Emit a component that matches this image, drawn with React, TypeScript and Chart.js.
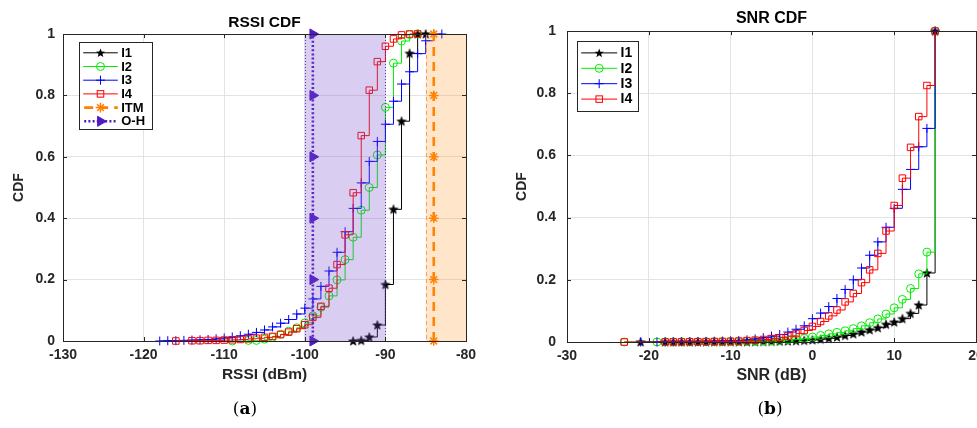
import React, { useEffect, useRef } from 'react';
import { Chart, registerables } from 'chart.js';

Chart.register(...registerables);

type Pt = [number, number];

// ---- axis ticks ----
const rssiTicks = [-130, -120, -110, -100, -90, -80];
const snrTicks = [-30, -20, -10, 0, 10, 20];
const cdfTicks = [0, 0.2, 0.4, 0.6, 0.8, 1];

// ---- RSSI CDF (dBm, cumulative probability) ----
const rssiI1: Pt[] = [
  [-94, 0], [-93, 0.002], [-92, 0.013], [-91, 0.052], [-90, 0.184], [-89, 0.429],
  [-88, 0.716], [-87, 0.937], [-86, 1], [-85, 1],
];
const rssiI2: Pt[] = [
  [-109, 0], [-107, 0.002], [-106, 0.002], [-105, 0.006], [-104, 0.012], [-103, 0.022],
  [-102, 0.032], [-101, 0.043], [-100, 0.059], [-99, 0.082], [-98, 0.11], [-97, 0.147],
  [-96, 0.199], [-95, 0.265], [-94, 0.338], [-93, 0.426], [-92, 0.5], [-91, 0.606],
  [-90, 0.761], [-89, 0.905], [-88, 0.977], [-87, 0.998], [-86, 1],
];
const rssiI3: Pt[] = [
  [-118, 0], [-117, 0.001], [-116, 0.001], [-115, 0.002], [-114, 0.003], [-113, 0.004],
  [-112, 0.005], [-111, 0.007], [-110, 0.01], [-109, 0.013], [-108, 0.017], [-107, 0.022],
  [-106, 0.028], [-105, 0.036], [-104, 0.046], [-103, 0.058], [-102, 0.07], [-101, 0.088],
  [-100, 0.107], [-99, 0.137], [-98, 0.178], [-97, 0.228], [-96, 0.289], [-95, 0.356],
  [-94, 0.432], [-93, 0.515], [-92, 0.585], [-91, 0.65], [-90, 0.706], [-89, 0.781],
  [-88, 0.837], [-87, 0.877], [-86, 0.936], [-85, 0.978], [-84, 1], [-83, 1],
];
const rssiI4: Pt[] = [
  [-116, 0], [-114, 0.001], [-113, 0.001], [-112, 0.002], [-111, 0.002], [-110, 0.003],
  [-109, 0.004], [-108, 0.005], [-107, 0.007], [-106, 0.009], [-105, 0.012], [-104, 0.015],
  [-103, 0.021], [-102, 0.029], [-101, 0.04], [-100, 0.053], [-99, 0.077], [-98, 0.113],
  [-97, 0.172], [-96, 0.249], [-95, 0.346], [-94, 0.483], [-93, 0.669], [-92, 0.817],
  [-91, 0.91], [-90, 0.96], [-89, 0.984], [-88, 0.997], [-87, 1], [-86, 1],
];

// propagation-model predictions (dBm) and the spread around them
const itmRssi = -84;
const ohRssi = -99;
const modelLevels = [0, 0.2, 0.4, 0.6, 0.8, 1];
const ohBand: Pt = [-100, -90];
const itmBand: Pt = [-85, -80];

// ---- SNR CDF (dB, cumulative probability) ----
const snrI1: Pt[] = [
  [-21, 0], [-18, 0.0001], [-17, 0.0001], [-16, 0.0002], [-15, 0.0002], [-14, 0.0003],
  [-13, 0.0003], [-12, 0.0004], [-11, 0.0005], [-10, 0.0006], [-9, 0.0008], [-8, 0.001],
  [-7, 0.0012], [-6, 0.0015], [-5, 0.002], [-4, 0.0025], [-3, 0.003], [-2, 0.004],
  [-1, 0.005], [0, 0.0065], [1, 0.009], [2, 0.012], [3, 0.016], [4, 0.021], [5, 0.026],
  [6, 0.032], [7, 0.039], [8, 0.046], [9, 0.057], [10, 0.064], [11, 0.075], [12, 0.092],
  [13, 0.119], [14, 0.222], [15, 1],
];
const snrI2: Pt[] = [
  [-23, 0], [-19, 0.0001], [-18, 0.0002], [-17, 0.0002], [-16, 0.0003], [-15, 0.0004],
  [-14, 0.0005], [-13, 0.0006], [-12, 0.0007], [-11, 0.0008], [-10, 0.001], [-9, 0.0015],
  [-8, 0.002], [-7, 0.0025], [-6, 0.003], [-5, 0.004], [-4, 0.005], [-3, 0.007],
  [-2, 0.009], [-1, 0.012], [0, 0.016], [1, 0.021], [2, 0.026], [3, 0.031], [4, 0.036],
  [5, 0.043], [6, 0.052], [7, 0.062], [8, 0.074], [9, 0.09], [10, 0.11], [11, 0.137],
  [12, 0.172], [13, 0.219], [14, 0.289], [15, 1],
];
const snrI3: Pt[] = [
  [-21, 0], [-19, 0.0003], [-18, 0.0005], [-17, 0.0007], [-16, 0.001], [-15, 0.0013],
  [-14, 0.0016], [-13, 0.002], [-12, 0.0025], [-11, 0.003], [-10, 0.004], [-9, 0.005],
  [-8, 0.007], [-7, 0.01], [-6, 0.014], [-5, 0.019], [-4, 0.024], [-3, 0.032],
  [-2, 0.041], [-1, 0.052], [0, 0.075], [1, 0.093], [2, 0.114], [3, 0.14], [4, 0.169],
  [5, 0.2], [6, 0.238], [7, 0.279], [8, 0.322], [9, 0.369], [10, 0.43], [11, 0.491],
  [12, 0.555], [13, 0.628], [14, 0.687], [15, 1],
];
const snrI4: Pt[] = [
  [-23, 0], [-18, 0.0003], [-17, 0.0004], [-16, 0.0005], [-15, 0.0007], [-14, 0.0009],
  [-13, 0.0012], [-12, 0.0015], [-11, 0.002], [-10, 0.0025], [-9, 0.003], [-8, 0.0045],
  [-7, 0.006], [-6, 0.008], [-5, 0.011], [-4, 0.014], [-3, 0.019], [-2, 0.027],
  [-1, 0.037], [0, 0.05], [1, 0.066], [2, 0.084], [3, 0.103], [4, 0.129], [5, 0.156],
  [6, 0.191], [7, 0.232], [8, 0.285], [9, 0.357], [10, 0.439], [11, 0.527], [12, 0.626],
  [13, 0.725], [14, 0.825], [15, 1],
];

// ---- styling ----
const FONT = "'Liberation Sans', Arial, Helvetica, sans-serif";
const INK = '#262626';
const GRID = '#e3e3e3';
const GREEN = '#00ee00';
const ORANGE = '#ff8000';
const PURPLE = 'rgb(78,26,196)';
const TICK_LEN = 4;

type MarkerKind = 'pentagram' | 'circle' | 'cross' | 'rect' | 'star' | 'triangleR';

interface SeriesStyle {
  label: string;
  color: string;
  marker: MarkerKind;
  r: number;
  filled: boolean;
  width: number;
  dash: number[];
  markerWidth: number;
}

function pentagramPath(ctx: CanvasRenderingContext2D, cx: number, cy: number, outer: number) {
  const inner = outer * 0.42;
  ctx.beginPath();
  for (let i = 0; i < 10; i++) {
    const rr = i % 2 === 0 ? outer : inner;
    const ang = -Math.PI / 2 + (i * Math.PI) / 5;
    const px = cx + rr * Math.cos(ang);
    const py = cy + rr * Math.sin(ang);
    if (i === 0) ctx.moveTo(px, py);
    else ctx.lineTo(px, py);
  }
  ctx.closePath();
}

function pentagramImage(outer: number, color: string): HTMLCanvasElement {
  const size = Math.ceil(outer * 2) + 2;
  const c = document.createElement('canvas');
  c.width = size;
  c.height = size;
  const g = c.getContext('2d')!;
  pentagramPath(g, size / 2, size / 2 + 0.4, outer);
  g.fillStyle = color;
  g.fill();
  g.strokeStyle = color;
  g.lineWidth = 0.6;
  g.stroke();
  return c;
}

function drawMarker(ctx: CanvasRenderingContext2D, s: SeriesStyle, x: number, y: number) {
  const r = s.r;
  ctx.save();
  ctx.setLineDash([]);
  ctx.strokeStyle = s.color;
  ctx.fillStyle = s.color;
  ctx.lineWidth = s.markerWidth;
  switch (s.marker) {
    case 'pentagram':
      pentagramPath(ctx, x, y + 0.4, r);
      ctx.fill();
      break;
    case 'circle':
      ctx.beginPath();
      ctx.arc(x, y, r, 0, Math.PI * 2);
      ctx.stroke();
      break;
    case 'cross':
      ctx.beginPath();
      ctx.moveTo(x - r, y);
      ctx.lineTo(x + r, y);
      ctx.moveTo(x, y - r);
      ctx.lineTo(x, y + r);
      ctx.stroke();
      break;
    case 'rect': {
      const h = r * Math.SQRT1_2;
      ctx.strokeRect(x - h, y - h, 2 * h, 2 * h);
      break;
    }
    case 'star': {
      const d = r * Math.SQRT1_2;
      ctx.beginPath();
      ctx.moveTo(x - r, y);
      ctx.lineTo(x + r, y);
      ctx.moveTo(x, y - r);
      ctx.lineTo(x, y + r);
      ctx.moveTo(x - d, y - d);
      ctx.lineTo(x + d, y + d);
      ctx.moveTo(x - d, y + d);
      ctx.lineTo(x + d, y - d);
      ctx.stroke();
      break;
    }
    case 'triangleR':
      ctx.beginPath();
      ctx.moveTo(x + r, y);
      ctx.lineTo(x - r / 2, y - r * 0.866);
      ctx.lineTo(x - r / 2, y + r * 0.866);
      ctx.closePath();
      ctx.fill();
      ctx.stroke();
      break;
  }
  ctx.restore();
}

function chartPointStyle(s: SeriesStyle): any {
  switch (s.marker) {
    case 'pentagram':
      return pentagramImage(s.r, s.color);
    case 'triangleR':
      return 'triangle';
    default:
      return s.marker;
  }
}

function measuredSeries(s: SeriesStyle, pts: Pt[], order: number) {
  return {
    label: s.label,
    data: pts.map(([x, y]) => ({ x, y })),
    borderColor: s.color,
    backgroundColor: s.color,
    borderWidth: s.width,
    stepped: 'before' as const,
    pointStyle: chartPointStyle(s),
    pointRadius: s.r,
    pointBorderColor: s.color,
    pointBackgroundColor: s.filled ? s.color : 'rgba(0,0,0,0)',
    pointBorderWidth: s.markerWidth,
    clip: false as const,
    order,
  };
}

function modelSeries(s: SeriesStyle, value: number, order: number) {
  return {
    label: s.label,
    data: modelLevels.map((y) => ({ x: value, y })),
    borderColor: s.color,
    backgroundColor: s.color,
    borderWidth: s.width,
    borderDash: s.dash,
    borderCapStyle: 'butt' as const,
    pointStyle: chartPointStyle(s),
    pointRotation: s.marker === 'triangleR' ? 90 : 0,
    pointRadius: s.r,
    pointBorderColor: s.color,
    pointBackgroundColor: s.filled ? s.color : 'rgba(0,0,0,0)',
    pointBorderWidth: s.markerWidth,
    clip: false as const,
    order,
  };
}

const styleI1: SeriesStyle = { label: 'I1', color: '#000000', marker: 'pentagram', r: 4.8, filled: true, width: 1, dash: [], markerWidth: 1 };
const styleI2: SeriesStyle = { label: 'I2', color: GREEN, marker: 'circle', r: 4, filled: false, width: 1, dash: [], markerWidth: 1 };
const styleI3: SeriesStyle = { label: 'I3', color: '#0000ff', marker: 'cross', r: 4.5, filled: false, width: 1, dash: [], markerWidth: 1 };
const styleI4: SeriesStyle = { label: 'I4', color: '#ff0000', marker: 'rect', r: 4.6, filled: false, width: 1, dash: [], markerWidth: 1 };
const styleITM: SeriesStyle = { label: 'ITM', color: ORANGE, marker: 'star', r: 4.8, filled: false, width: 2.6, dash: [9, 6], markerWidth: 1.5 };
const styleOH: SeriesStyle = { label: 'O-H', color: PURPLE, marker: 'triangleR', r: 5.8, filled: true, width: 2.6, dash: [2, 2.2], markerWidth: 1 };

interface Band {
  range: Pt;
  fill: string;
  edge: string;
  edgeDash: number[];
}

interface LegendLayout {
  dx: number;
  dy: number;
  w: number;
  h: number;
  row0: number;
  rowGap: number;
  line0: number;
  line1: number;
  textX: number;
  font: string;
  rows: SeriesStyle[];
}

const framePlugin = {
  id: 'cdfFrame',
  afterDatasetsDraw(chart: any, _args: any, o: any) {
    const { ctx, chartArea: a } = chart;
    const xs = chart.scales.x;
    const ys = chart.scales.y;
    ctx.save();
    // shaded prediction ranges sit over the curves, as a translucent patch
    (o.bands as Band[]).forEach((b) => {
      const x0 = xs.getPixelForValue(b.range[0]);
      const x1 = xs.getPixelForValue(b.range[1]);
      ctx.fillStyle = b.fill;
      ctx.fillRect(x0, a.top, x1 - x0, a.bottom - a.top);
      ctx.strokeStyle = b.edge;
      ctx.lineWidth = 1;
      ctx.setLineDash(b.edgeDash);
      ctx.beginPath();
      [x0, x1].forEach((x) => {
        const px = Math.round(x) + 0.5;
        ctx.moveTo(px, a.top);
        ctx.lineTo(px, a.bottom);
      });
      ctx.stroke();
    });
    // axes box with inward tick marks on all four sides
    ctx.setLineDash([]);
    ctx.strokeStyle = INK;
    ctx.lineWidth = 1;
    ctx.beginPath();
    xs.ticks.forEach((t: any) => {
      const px = Math.round(xs.getPixelForValue(t.value)) + 0.5;
      ctx.moveTo(px, a.bottom);
      ctx.lineTo(px, a.bottom - TICK_LEN);
      ctx.moveTo(px, a.top);
      ctx.lineTo(px, a.top + TICK_LEN);
    });
    ys.ticks.forEach((t: any) => {
      const py = Math.round(ys.getPixelForValue(t.value)) + 0.5;
      ctx.moveTo(a.left, py);
      ctx.lineTo(a.left + TICK_LEN, py);
      ctx.moveTo(a.right, py);
      ctx.lineTo(a.right - TICK_LEN, py);
    });
    ctx.stroke();
    ctx.strokeRect(
      Math.round(a.left) + 0.5,
      Math.round(a.top) + 0.5,
      Math.round(a.right - a.left),
      Math.round(a.bottom - a.top)
    );
    ctx.restore();
  },
  afterDraw(chart: any, _args: any, o: any) {
    const L = o.legend as LegendLayout;
    const { ctx, chartArea: a } = chart;
    const bx = Math.round(a.left + L.dx) + 0.5;
    const by = Math.round(a.top + L.dy) + 0.5;
    ctx.save();
    ctx.fillStyle = '#ffffff';
    ctx.fillRect(bx, by, L.w, L.h);
    ctx.strokeStyle = INK;
    ctx.lineWidth = 1;
    ctx.strokeRect(bx, by, L.w, L.h);
    L.rows.forEach((s, i) => {
      const y = by + L.row0 + i * L.rowGap;
      ctx.strokeStyle = s.color;
      ctx.lineWidth = s.width;
      ctx.setLineDash(s.dash);
      ctx.lineDashOffset = s.dash.length ? -1 : 0;
      ctx.beginPath();
      ctx.moveTo(bx + L.line0, y);
      ctx.lineTo(bx + L.line1, y);
      ctx.stroke();
      ctx.setLineDash([]);
      drawMarker(ctx, s, bx + (L.line0 + L.line1) / 2, y);
      ctx.fillStyle = '#000000';
      ctx.font = L.font;
      ctx.textAlign = 'left';
      ctx.textBaseline = 'middle';
      ctx.fillText(s.label, bx + L.textX, y + 0.5);
    });
    ctx.restore();
  },
};

interface PanelSpec {
  title: string;
  titleSize: number;
  titlePad: Pt;
  xTitle: string;
  xTitleSize: number;
  xTitlePadBottom: number;
  yTitleSize: number;
  yTitlePadTop: number;
  xMin: number;
  xMax: number;
  xTicks: number[];
  yAxisWidth: number;
  xAxisHeight: number;
  yTickPad: number;
  xTickPad: number;
  padRight: number;
  datasets: any[];
  bands: Band[];
  legend: LegendLayout;
}

function panelConfig(p: PanelSpec): any {
  const tickFont = { family: FONT, size: 14, weight: 'bold' as const };
  return {
    type: 'line',
    data: { datasets: p.datasets },
    plugins: [framePlugin],
    options: {
      responsive: false,
      animation: false,
      events: [],
      layout: { padding: { left: 0, right: p.padRight, top: 0, bottom: 0 } },
      scales: {
        x: {
          type: 'linear',
          min: p.xMin,
          max: p.xMax,
          afterBuildTicks: (s: any) => {
            s.ticks = p.xTicks.map((v) => ({ value: v }));
          },
          afterFit: (s: any) => {
            s.height = p.xAxisHeight;
          },
          grid: { color: GRID, lineWidth: 1, drawTicks: false },
          border: { display: false },
          ticks: {
            font: tickFont,
            color: INK,
            padding: p.xTickPad,
            maxRotation: 0,
            autoSkip: false,
            callback: (v: number) => String(v),
          },
          title: {
            display: true,
            text: p.xTitle,
            color: INK,
            font: { family: FONT, size: p.xTitleSize, weight: 'bold' },
            padding: { top: 0, bottom: p.xTitlePadBottom },
          },
        },
        y: {
          type: 'linear',
          min: 0,
          max: 1,
          afterBuildTicks: (s: any) => {
            s.ticks = cdfTicks.map((v) => ({ value: v }));
          },
          afterFit: (s: any) => {
            s.width = p.yAxisWidth;
          },
          grid: { color: GRID, lineWidth: 1, drawTicks: false },
          border: { display: false },
          ticks: {
            font: tickFont,
            color: INK,
            padding: p.yTickPad,
            autoSkip: false,
            callback: (v: number) => String(v),
          },
          title: {
            display: true,
            text: 'CDF',
            color: INK,
            font: { family: FONT, size: p.yTitleSize, weight: 'bold' },
            padding: { top: p.yTitlePadTop, bottom: 0 },
          },
        },
      },
      plugins: {
        legend: { display: false },
        tooltip: { enabled: false },
        title: {
          display: true,
          text: p.title,
          color: '#000000',
          fullSize: false,
          font: { family: FONT, size: p.titleSize, weight: 'bold' },
          padding: { top: p.titlePad[0], bottom: p.titlePad[1] },
        },
        cdfFrame: { bands: p.bands, legend: p.legend },
      },
    },
  };
}

const rssiPanel: PanelSpec = {
  title: 'RSSI CDF',
  titleSize: 15.5,
  titlePad: [13.2, 2.2],
  xTitle: 'RSSI (dBm)',
  xTitleSize: 15.5,
  xTitlePadBottom: 16,
  yTitleSize: 14,
  yTitlePadTop: 10.6,
  xMin: -130,
  xMax: -80,
  xTicks: rssiTicks,
  yAxisWidth: 63,
  xAxisHeight: 59,
  yTickPad: 8,
  xTickPad: 5.6,
  padRight: 22,
  datasets: [
    modelSeries(styleOH, ohRssi, 1),
    modelSeries(styleITM, itmRssi, 2),
    measuredSeries(styleI4, rssiI4, 3),
    measuredSeries(styleI3, rssiI3, 4),
    measuredSeries(styleI2, rssiI2, 5),
    measuredSeries(styleI1, rssiI1, 6),
  ],
  bands: [
    { range: ohBand, fill: 'rgba(118,80,206,0.28)', edge: 'rgba(70,30,170,0.85)', edgeDash: [1, 2] },
    { range: itmBand, fill: 'rgba(255,140,20,0.22)', edge: 'rgba(245,150,70,0.85)', edgeDash: [4, 3] },
  ],
  legend: {
    dx: 16,
    dy: 8,
    w: 73,
    h: 87,
    row0: 10.3,
    rowGap: 13.7,
    line0: 3.7,
    line1: 38.3,
    textX: 41.7,
    font: `bold 13px ${FONT}`,
    rows: [styleI1, styleI2, styleI3, styleI4, styleITM, styleOH],
  },
};

const snrPanel: PanelSpec = {
  title: 'SNR CDF',
  titleSize: 16,
  titlePad: [9.2, 2.7],
  xTitle: 'SNR (dB)',
  xTitleSize: 16,
  xTitlePadBottom: 14.7,
  yTitleSize: 14,
  yTitlePadTop: 25.6,
  xMin: -30,
  xMax: 20,
  xTicks: snrTicks,
  yAxisWidth: 79,
  xAxisHeight: 58,
  yTickPad: 11,
  xTickPad: 5.6,
  padRight: 42,
  datasets: [
    measuredSeries(styleI4, snrI4, 1),
    measuredSeries(styleI3, snrI3, 2),
    measuredSeries(styleI2, snrI2, 3),
    measuredSeries(styleI1, snrI1, 4),
  ],
  bands: [],
  legend: {
    dx: 10,
    dy: 10,
    w: 61,
    h: 70,
    row0: 11.4,
    rowGap: 15.4,
    line0: 3.7,
    line1: 39.7,
    textX: 43,
    font: `bold 14px ${FONT}`,
    rows: [styleI1, styleI2, styleI3, styleI4],
  },
};

function CdfCanvas({ spec, left, width }: { spec: PanelSpec; left: number; width: number }) {
  const ref = useRef<HTMLCanvasElement>(null);
  useEffect(() => {
    if (!ref.current) return;
    const chart = new Chart(ref.current, panelConfig(spec));
    return () => chart.destroy();
  }, [spec]);
  return (
    <canvas
      ref={ref}
      width={width}
      height={400}
      style={{ position: 'absolute', left, top: 0, width, height: 400 }}
    />
  );
}

const captionStyle: React.CSSProperties = {
  position: 'absolute',
  top: 397,
  width: 100,
  textAlign: 'center',
  fontFamily: "'DejaVu Serif', 'Liberation Serif', serif",
  fontSize: 17,
  lineHeight: '22px',
  color: '#000',
};

export default function App() {
  return (
    <div
      style={{
        position: 'fixed',
        left: 0,
        top: 0,
        width: 977,
        height: 428,
        overflow: 'hidden',
        background: '#ffffff',
      }}
    >
      <CdfCanvas spec={rssiPanel} left={0} width={488} />
      <CdfCanvas spec={snrPanel} left={488} width={530} />
      <div style={{ ...captionStyle, left: 195 }}>
        (<b>a</b>)
      </div>
      <div style={{ ...captionStyle, left: 720 }}>
        (<b>b</b>)
      </div>
    </div>
  );
}
